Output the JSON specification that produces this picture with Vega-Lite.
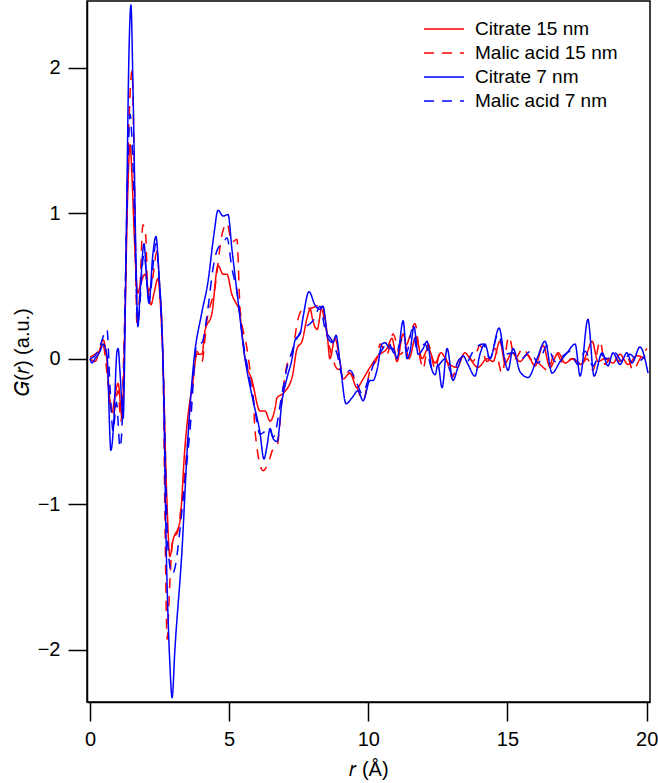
{
  "$schema": "https://vega.github.io/schema/vega-lite/v6.json",
  "width": 563,
  "height": 701,
  "autosize": "none",
  "padding": {"left": 87, "top": 1, "right": 8, "bottom": 81},
  "config": {
    "view": {"stroke": "#000", "strokeWidth": 1.5},
    "font": "Liberation Sans",
    "axis": {"labelFont": "Liberation Sans", "titleFont": "Liberation Sans", "labelColor": "#000", "titleColor": "#000", "domainColor": "#000", "tickColor": "#000", "grid": false, "titleFontWeight": "normal", "domainWidth": 1.5, "tickWidth": 1.5}
  },
  "datasets": {
    "pdf": [
      {"r":0,"G":0,"s":"Citrate 15 nm"},{"r":0.18,"G":-0.02,"s":"Citrate 15 nm"},{"r":0.36,"G":0.07,"s":"Citrate 15 nm"},{"r":0.47,"G":0.13,"s":"Citrate 15 nm"},{"r":0.6,"G":0.0,"s":"Citrate 15 nm"},{"r":0.72,"G":-0.3,"s":"Citrate 15 nm"},{"r":0.79,"G":-0.37,"s":"Citrate 15 nm"},{"r":0.9,"G":-0.25,"s":"Citrate 15 nm"},{"r":1.01,"G":-0.17,"s":"Citrate 15 nm"},{"r":1.15,"G":-0.4,"s":"Citrate 15 nm"},{"r":1.25,"G":0.2,"s":"Citrate 15 nm"},{"r":1.35,"G":1.1,"s":"Citrate 15 nm"},{"r":1.44,"G":1.47,"s":"Citrate 15 nm"},{"r":1.52,"G":1.2,"s":"Citrate 15 nm"},{"r":1.6,"G":0.8,"s":"Citrate 15 nm"},{"r":1.72,"G":0.45,"s":"Citrate 15 nm"},{"r":1.8,"G":0.5,"s":"Citrate 15 nm"},{"r":1.98,"G":0.58,"s":"Citrate 15 nm"},{"r":2.19,"G":0.37,"s":"Citrate 15 nm"},{"r":2.3,"G":0.45,"s":"Citrate 15 nm"},{"r":2.44,"G":0.55,"s":"Citrate 15 nm"},{"r":2.55,"G":0.3,"s":"Citrate 15 nm"},{"r":2.62,"G":0.0,"s":"Citrate 15 nm"},{"r":2.75,"G":-0.9,"s":"Citrate 15 nm"},{"r":2.87,"G":-1.36,"s":"Citrate 15 nm"},{"r":2.98,"G":-1.25,"s":"Citrate 15 nm"},{"r":3.23,"G":-1.12,"s":"Citrate 15 nm"},{"r":3.41,"G":-0.61,"s":"Citrate 15 nm"},{"r":3.59,"G":-0.29,"s":"Citrate 15 nm"},{"r":3.67,"G":-0.2,"s":"Citrate 15 nm"},{"r":3.84,"G":0.03,"s":"Citrate 15 nm"},{"r":4.02,"G":0.03,"s":"Citrate 15 nm"},{"r":4.13,"G":0.19,"s":"Citrate 15 nm"},{"r":4.38,"G":0.31,"s":"Citrate 15 nm"},{"r":4.6,"G":0.64,"s":"Citrate 15 nm"},{"r":4.78,"G":0.58,"s":"Citrate 15 nm"},{"r":4.92,"G":0.58,"s":"Citrate 15 nm"},{"r":5.1,"G":0.44,"s":"Citrate 15 nm"},{"r":5.25,"G":0.38,"s":"Citrate 15 nm"},{"r":5.35,"G":0.34,"s":"Citrate 15 nm"},{"r":5.57,"G":0.0,"s":"Citrate 15 nm"},{"r":5.82,"G":-0.15,"s":"Citrate 15 nm"},{"r":6.11,"G":-0.36,"s":"Citrate 15 nm"},{"r":6.29,"G":-0.36,"s":"Citrate 15 nm"},{"r":6.47,"G":-0.43,"s":"Citrate 15 nm"},{"r":6.65,"G":-0.34,"s":"Citrate 15 nm"},{"r":6.72,"G":-0.27,"s":"Citrate 15 nm"},{"r":6.93,"G":-0.24,"s":"Citrate 15 nm"},{"r":7.26,"G":-0.13,"s":"Citrate 15 nm"},{"r":7.44,"G":0.07,"s":"Citrate 15 nm"},{"r":7.62,"G":0.12,"s":"Citrate 15 nm"},{"r":7.8,"G":0.28,"s":"Citrate 15 nm"},{"r":7.91,"G":0.34,"s":"Citrate 15 nm"},{"r":8.01,"G":0.26,"s":"Citrate 15 nm"},{"r":8.16,"G":0.2,"s":"Citrate 15 nm"},{"r":8.34,"G":0.36,"s":"Citrate 15 nm"},{"r":8.52,"G":0.17,"s":"Citrate 15 nm"},{"r":8.62,"G":0.0,"s":"Citrate 15 nm"},{"r":8.8,"G":0.14,"s":"Citrate 15 nm"},{"r":8.98,"G":-0.02,"s":"Citrate 15 nm"},{"r":9.09,"G":-0.14,"s":"Citrate 15 nm"},{"r":9.34,"G":-0.1,"s":"Citrate 15 nm"},{"r":9.59,"G":-0.2,"s":"Citrate 15 nm"},{"r":9.81,"G":-0.14,"s":"Citrate 15 nm"},{"r":10.06,"G":-0.06,"s":"Citrate 15 nm"},{"r":10.35,"G":0.02,"s":"Citrate 15 nm"},{"r":10.67,"G":0.07,"s":"Citrate 15 nm"},{"r":10.85,"G":0.14,"s":"Citrate 15 nm"},{"r":11.03,"G":-0.02,"s":"Citrate 15 nm"},{"r":11.25,"G":0.17,"s":"Citrate 15 nm"},{"r":11.46,"G":0.0,"s":"Citrate 15 nm"},{"r":11.71,"G":0.15,"s":"Citrate 15 nm"},{"r":11.93,"G":0.0,"s":"Citrate 15 nm"},{"r":12.15,"G":0.07,"s":"Citrate 15 nm"},{"r":12.4,"G":-0.03,"s":"Citrate 15 nm"},{"r":12.61,"G":0.04,"s":"Citrate 15 nm"},{"r":12.86,"G":-0.03,"s":"Citrate 15 nm"},{"r":13.19,"G":-0.06,"s":"Citrate 15 nm"},{"r":13.47,"G":0.04,"s":"Citrate 15 nm"},{"r":13.65,"G":0.0,"s":"Citrate 15 nm"},{"r":13.94,"G":-0.06,"s":"Citrate 15 nm"},{"r":14.27,"G":0.0,"s":"Citrate 15 nm"},{"r":14.48,"G":-0.02,"s":"Citrate 15 nm"},{"r":14.73,"G":0.12,"s":"Citrate 15 nm"},{"r":14.91,"G":-0.03,"s":"Citrate 15 nm"},{"r":15.16,"G":0.04,"s":"Citrate 15 nm"},{"r":15.45,"G":-0.02,"s":"Citrate 15 nm"},{"r":15.7,"G":0.03,"s":"Citrate 15 nm"},{"r":15.99,"G":-0.05,"s":"Citrate 15 nm"},{"r":16.28,"G":0.09,"s":"Citrate 15 nm"},{"r":16.53,"G":-0.06,"s":"Citrate 15 nm"},{"r":16.82,"G":0.04,"s":"Citrate 15 nm"},{"r":17.07,"G":-0.03,"s":"Citrate 15 nm"},{"r":17.36,"G":0.0,"s":"Citrate 15 nm"},{"r":17.64,"G":-0.04,"s":"Citrate 15 nm"},{"r":17.86,"G":0.04,"s":"Citrate 15 nm"},{"r":18.04,"G":0.12,"s":"Citrate 15 nm"},{"r":18.25,"G":-0.02,"s":"Citrate 15 nm"},{"r":18.5,"G":0.0,"s":"Citrate 15 nm"},{"r":18.79,"G":-0.03,"s":"Citrate 15 nm"},{"r":19.04,"G":0.03,"s":"Citrate 15 nm"},{"r":19.33,"G":-0.04,"s":"Citrate 15 nm"},{"r":19.65,"G":0.02,"s":"Citrate 15 nm"},{"r":19.94,"G":0.0,"s":"Citrate 15 nm"},

      {"r":0,"G":0.01,"s":"Malic acid 15 nm"},{"r":0.25,"G":0.04,"s":"Malic acid 15 nm"},{"r":0.47,"G":0.09,"s":"Malic acid 15 nm"},{"r":0.61,"G":-0.1,"s":"Malic acid 15 nm"},{"r":0.72,"G":-0.3,"s":"Malic acid 15 nm"},{"r":0.83,"G":-0.39,"s":"Malic acid 15 nm"},{"r":1.01,"G":-0.22,"s":"Malic acid 15 nm"},{"r":1.11,"G":-0.43,"s":"Malic acid 15 nm"},{"r":1.25,"G":0.3,"s":"Malic acid 15 nm"},{"r":1.38,"G":1.5,"s":"Malic acid 15 nm"},{"r":1.51,"G":1.98,"s":"Malic acid 15 nm"},{"r":1.6,"G":1.2,"s":"Malic acid 15 nm"},{"r":1.69,"G":0.22,"s":"Malic acid 15 nm"},{"r":1.8,"G":0.5,"s":"Malic acid 15 nm"},{"r":1.9,"G":0.92,"s":"Malic acid 15 nm"},{"r":2.0,"G":0.85,"s":"Malic acid 15 nm"},{"r":2.08,"G":0.46,"s":"Malic acid 15 nm"},{"r":2.23,"G":0.53,"s":"Malic acid 15 nm"},{"r":2.41,"G":0.74,"s":"Malic acid 15 nm"},{"r":2.5,"G":0.5,"s":"Malic acid 15 nm"},{"r":2.62,"G":0.0,"s":"Malic acid 15 nm"},{"r":2.7,"G":-1.2,"s":"Malic acid 15 nm"},{"r":2.77,"G":-1.93,"s":"Malic acid 15 nm"},{"r":2.87,"G":-1.53,"s":"Malic acid 15 nm"},{"r":2.98,"G":-1.23,"s":"Malic acid 15 nm"},{"r":3.13,"G":-1.2,"s":"Malic acid 15 nm"},{"r":3.31,"G":-0.96,"s":"Malic acid 15 nm"},{"r":3.49,"G":-0.61,"s":"Malic acid 15 nm"},{"r":3.67,"G":-0.2,"s":"Malic acid 15 nm"},{"r":3.84,"G":0.05,"s":"Malic acid 15 nm"},{"r":4.02,"G":-0.02,"s":"Malic acid 15 nm"},{"r":4.2,"G":0.26,"s":"Malic acid 15 nm"},{"r":4.49,"G":0.49,"s":"Malic acid 15 nm"},{"r":4.74,"G":0.85,"s":"Malic acid 15 nm"},{"r":4.92,"G":0.93,"s":"Malic acid 15 nm"},{"r":5.1,"G":0.8,"s":"Malic acid 15 nm"},{"r":5.28,"G":0.82,"s":"Malic acid 15 nm"},{"r":5.39,"G":0.35,"s":"Malic acid 15 nm"},{"r":5.64,"G":0.07,"s":"Malic acid 15 nm"},{"r":5.75,"G":-0.08,"s":"Malic acid 15 nm"},{"r":5.86,"G":-0.24,"s":"Malic acid 15 nm"},{"r":5.93,"G":-0.5,"s":"Malic acid 15 nm"},{"r":6.22,"G":-0.77,"s":"Malic acid 15 nm"},{"r":6.4,"G":-0.72,"s":"Malic acid 15 nm"},{"r":6.58,"G":-0.62,"s":"Malic acid 15 nm"},{"r":6.72,"G":-0.6,"s":"Malic acid 15 nm"},{"r":6.93,"G":-0.22,"s":"Malic acid 15 nm"},{"r":7.08,"G":-0.04,"s":"Malic acid 15 nm"},{"r":7.26,"G":0.03,"s":"Malic acid 15 nm"},{"r":7.47,"G":0.27,"s":"Malic acid 15 nm"},{"r":7.65,"G":0.34,"s":"Malic acid 15 nm"},{"r":8.0,"G":0.35,"s":"Malic acid 15 nm"},{"r":8.26,"G":0.37,"s":"Malic acid 15 nm"},{"r":8.62,"G":0.07,"s":"Malic acid 15 nm"},{"r":8.88,"G":-0.07,"s":"Malic acid 15 nm"},{"r":9.09,"G":-0.08,"s":"Malic acid 15 nm"},{"r":9.45,"G":-0.12,"s":"Malic acid 15 nm"},{"r":9.81,"G":-0.29,"s":"Malic acid 15 nm"},{"r":10.06,"G":-0.08,"s":"Malic acid 15 nm"},{"r":10.31,"G":0.0,"s":"Malic acid 15 nm"},{"r":10.42,"G":0.1,"s":"Malic acid 15 nm"},{"r":10.67,"G":0.03,"s":"Malic acid 15 nm"},{"r":10.89,"G":0.17,"s":"Malic acid 15 nm"},{"r":11.14,"G":0.03,"s":"Malic acid 15 nm"},{"r":11.39,"G":0.1,"s":"Malic acid 15 nm"},{"r":11.68,"G":0.24,"s":"Malic acid 15 nm"},{"r":11.86,"G":0.0,"s":"Malic acid 15 nm"},{"r":11.97,"G":-0.07,"s":"Malic acid 15 nm"},{"r":12.15,"G":0.1,"s":"Malic acid 15 nm"},{"r":12.4,"G":-0.07,"s":"Malic acid 15 nm"},{"r":12.58,"G":0.04,"s":"Malic acid 15 nm"},{"r":12.83,"G":-0.02,"s":"Malic acid 15 nm"},{"r":13.01,"G":-0.13,"s":"Malic acid 15 nm"},{"r":13.22,"G":-0.02,"s":"Malic acid 15 nm"},{"r":13.55,"G":0.03,"s":"Malic acid 15 nm"},{"r":13.76,"G":-0.02,"s":"Malic acid 15 nm"},{"r":14.01,"G":0.09,"s":"Malic acid 15 nm"},{"r":14.27,"G":-0.02,"s":"Malic acid 15 nm"},{"r":14.55,"G":0.07,"s":"Malic acid 15 nm"},{"r":14.8,"G":-0.1,"s":"Malic acid 15 nm"},{"r":15.05,"G":0.15,"s":"Malic acid 15 nm"},{"r":15.27,"G":0.0,"s":"Malic acid 15 nm"},{"r":15.56,"G":0.07,"s":"Malic acid 15 nm"},{"r":15.81,"G":0.0,"s":"Malic acid 15 nm"},{"r":16.1,"G":-0.03,"s":"Malic acid 15 nm"},{"r":16.46,"G":-0.08,"s":"Malic acid 15 nm"},{"r":16.71,"G":0.05,"s":"Malic acid 15 nm"},{"r":17.0,"G":-0.03,"s":"Malic acid 15 nm"},{"r":17.32,"G":0.0,"s":"Malic acid 15 nm"},{"r":17.61,"G":-0.05,"s":"Malic acid 15 nm"},{"r":17.86,"G":0.0,"s":"Malic acid 15 nm"},{"r":18.07,"G":-0.08,"s":"Malic acid 15 nm"},{"r":18.33,"G":0.12,"s":"Malic acid 15 nm"},{"r":18.5,"G":-0.04,"s":"Malic acid 15 nm"},{"r":18.75,"G":0.02,"s":"Malic acid 15 nm"},{"r":19.04,"G":-0.02,"s":"Malic acid 15 nm"},{"r":19.29,"G":0.02,"s":"Malic acid 15 nm"},{"r":19.51,"G":-0.08,"s":"Malic acid 15 nm"},{"r":19.76,"G":0.0,"s":"Malic acid 15 nm"},{"r":20.01,"G":0.07,"s":"Malic acid 15 nm"},

      {"r":0,"G":0,"s":"Citrate 7 nm"},{"r":0.07,"G":-0.03,"s":"Citrate 7 nm"},{"r":0.18,"G":0.0,"s":"Citrate 7 nm"},{"r":0.36,"G":0.05,"s":"Citrate 7 nm"},{"r":0.47,"G":0.1,"s":"Citrate 7 nm"},{"r":0.61,"G":0.02,"s":"Citrate 7 nm"},{"r":0.75,"G":-0.63,"s":"Citrate 7 nm"},{"r":0.85,"G":-0.45,"s":"Citrate 7 nm"},{"r":0.97,"G":0.05,"s":"Citrate 7 nm"},{"r":1.01,"G":0.07,"s":"Citrate 7 nm"},{"r":1.08,"G":-0.1,"s":"Citrate 7 nm"},{"r":1.19,"G":-0.41,"s":"Citrate 7 nm"},{"r":1.3,"G":0.8,"s":"Citrate 7 nm"},{"r":1.4,"G":2.1,"s":"Citrate 7 nm"},{"r":1.47,"G":2.43,"s":"Citrate 7 nm"},{"r":1.55,"G":1.8,"s":"Citrate 7 nm"},{"r":1.65,"G":0.7,"s":"Citrate 7 nm"},{"r":1.72,"G":0.22,"s":"Citrate 7 nm"},{"r":1.8,"G":0.45,"s":"Citrate 7 nm"},{"r":1.94,"G":0.79,"s":"Citrate 7 nm"},{"r":2.05,"G":0.5,"s":"Citrate 7 nm"},{"r":2.12,"G":0.38,"s":"Citrate 7 nm"},{"r":2.25,"G":0.7,"s":"Citrate 7 nm"},{"r":2.37,"G":0.84,"s":"Citrate 7 nm"},{"r":2.47,"G":0.6,"s":"Citrate 7 nm"},{"r":2.62,"G":0.0,"s":"Citrate 7 nm"},{"r":2.75,"G":-1.4,"s":"Citrate 7 nm"},{"r":2.87,"G":-2.1,"s":"Citrate 7 nm"},{"r":2.95,"G":-2.33,"s":"Citrate 7 nm"},{"r":3.05,"G":-2.0,"s":"Citrate 7 nm"},{"r":3.31,"G":-1.3,"s":"Citrate 7 nm"},{"r":3.5,"G":-0.6,"s":"Citrate 7 nm"},{"r":3.74,"G":0.0,"s":"Citrate 7 nm"},{"r":4.0,"G":0.3,"s":"Citrate 7 nm"},{"r":4.24,"G":0.53,"s":"Citrate 7 nm"},{"r":4.45,"G":0.85,"s":"Citrate 7 nm"},{"r":4.6,"G":1.02,"s":"Citrate 7 nm"},{"r":4.78,"G":0.98,"s":"Citrate 7 nm"},{"r":4.96,"G":0.99,"s":"Citrate 7 nm"},{"r":5.1,"G":0.75,"s":"Citrate 7 nm"},{"r":5.28,"G":0.46,"s":"Citrate 7 nm"},{"r":5.57,"G":0.0,"s":"Citrate 7 nm"},{"r":5.86,"G":-0.29,"s":"Citrate 7 nm"},{"r":6.1,"G":-0.5,"s":"Citrate 7 nm"},{"r":6.25,"G":-0.69,"s":"Citrate 7 nm"},{"r":6.36,"G":-0.6,"s":"Citrate 7 nm"},{"r":6.47,"G":-0.48,"s":"Citrate 7 nm"},{"r":6.58,"G":-0.55,"s":"Citrate 7 nm"},{"r":6.72,"G":-0.57,"s":"Citrate 7 nm"},{"r":6.9,"G":-0.29,"s":"Citrate 7 nm"},{"r":7.08,"G":-0.13,"s":"Citrate 7 nm"},{"r":7.26,"G":0.0,"s":"Citrate 7 nm"},{"r":7.37,"G":0.13,"s":"Citrate 7 nm"},{"r":7.55,"G":0.17,"s":"Citrate 7 nm"},{"r":7.65,"G":0.28,"s":"Citrate 7 nm"},{"r":7.87,"G":0.46,"s":"Citrate 7 nm"},{"r":8.08,"G":0.37,"s":"Citrate 7 nm"},{"r":8.26,"G":0.34,"s":"Citrate 7 nm"},{"r":8.37,"G":0.36,"s":"Citrate 7 nm"},{"r":8.55,"G":0.14,"s":"Citrate 7 nm"},{"r":8.73,"G":0.11,"s":"Citrate 7 nm"},{"r":8.84,"G":0.16,"s":"Citrate 7 nm"},{"r":8.98,"G":-0.02,"s":"Citrate 7 nm"},{"r":9.2,"G":-0.31,"s":"Citrate 7 nm"},{"r":9.41,"G":-0.27,"s":"Citrate 7 nm"},{"r":9.63,"G":-0.22,"s":"Citrate 7 nm"},{"r":9.81,"G":-0.29,"s":"Citrate 7 nm"},{"r":10.06,"G":-0.15,"s":"Citrate 7 nm"},{"r":10.17,"G":-0.15,"s":"Citrate 7 nm"},{"r":10.31,"G":-0.08,"s":"Citrate 7 nm"},{"r":10.49,"G":0.1,"s":"Citrate 7 nm"},{"r":10.6,"G":0.11,"s":"Citrate 7 nm"},{"r":10.78,"G":0.07,"s":"Citrate 7 nm"},{"r":10.89,"G":0.07,"s":"Citrate 7 nm"},{"r":11.03,"G":0.0,"s":"Citrate 7 nm"},{"r":11.25,"G":0.26,"s":"Citrate 7 nm"},{"r":11.39,"G":0.0,"s":"Citrate 7 nm"},{"r":11.5,"G":0.05,"s":"Citrate 7 nm"},{"r":11.64,"G":0.22,"s":"Citrate 7 nm"},{"r":11.79,"G":0.03,"s":"Citrate 7 nm"},{"r":11.97,"G":0.07,"s":"Citrate 7 nm"},{"r":12.11,"G":0.12,"s":"Citrate 7 nm"},{"r":12.29,"G":-0.08,"s":"Citrate 7 nm"},{"r":12.4,"G":-0.11,"s":"Citrate 7 nm"},{"r":12.5,"G":-0.04,"s":"Citrate 7 nm"},{"r":12.65,"G":-0.2,"s":"Citrate 7 nm"},{"r":12.83,"G":0.07,"s":"Citrate 7 nm"},{"r":13.04,"G":-0.15,"s":"Citrate 7 nm"},{"r":13.22,"G":-0.06,"s":"Citrate 7 nm"},{"r":13.4,"G":0.02,"s":"Citrate 7 nm"},{"r":13.58,"G":-0.04,"s":"Citrate 7 nm"},{"r":13.83,"G":-0.12,"s":"Citrate 7 nm"},{"r":14.01,"G":0.03,"s":"Citrate 7 nm"},{"r":14.19,"G":0.1,"s":"Citrate 7 nm"},{"r":14.37,"G":0.0,"s":"Citrate 7 nm"},{"r":14.7,"G":0.21,"s":"Citrate 7 nm"},{"r":14.91,"G":-0.02,"s":"Citrate 7 nm"},{"r":15.02,"G":-0.08,"s":"Citrate 7 nm"},{"r":15.2,"G":0.07,"s":"Citrate 7 nm"},{"r":15.45,"G":-0.09,"s":"Citrate 7 nm"},{"r":15.74,"G":-0.13,"s":"Citrate 7 nm"},{"r":16.06,"G":0.0,"s":"Citrate 7 nm"},{"r":16.35,"G":0.12,"s":"Citrate 7 nm"},{"r":16.6,"G":-0.1,"s":"Citrate 7 nm"},{"r":16.89,"G":-0.02,"s":"Citrate 7 nm"},{"r":17.14,"G":0.04,"s":"Citrate 7 nm"},{"r":17.43,"G":0.1,"s":"Citrate 7 nm"},{"r":17.61,"G":-0.12,"s":"Citrate 7 nm"},{"r":17.89,"G":0.27,"s":"Citrate 7 nm"},{"r":18.11,"G":-0.12,"s":"Citrate 7 nm"},{"r":18.4,"G":0.04,"s":"Citrate 7 nm"},{"r":18.61,"G":-0.05,"s":"Citrate 7 nm"},{"r":18.79,"G":0.04,"s":"Citrate 7 nm"},{"r":19.04,"G":-0.04,"s":"Citrate 7 nm"},{"r":19.29,"G":0.04,"s":"Citrate 7 nm"},{"r":19.47,"G":-0.03,"s":"Citrate 7 nm"},{"r":19.76,"G":0.08,"s":"Citrate 7 nm"},{"r":20.05,"G":-0.1,"s":"Citrate 7 nm"},

      {"r":0,"G":0,"s":"Malic acid 7 nm"},{"r":0.18,"G":0.02,"s":"Malic acid 7 nm"},{"r":0.36,"G":0.09,"s":"Malic acid 7 nm"},{"r":0.61,"G":0.2,"s":"Malic acid 7 nm"},{"r":0.72,"G":-0.2,"s":"Malic acid 7 nm"},{"r":0.83,"G":-0.5,"s":"Malic acid 7 nm"},{"r":0.95,"G":-0.3,"s":"Malic acid 7 nm"},{"r":1.08,"G":-0.61,"s":"Malic acid 7 nm"},{"r":1.2,"G":-0.2,"s":"Malic acid 7 nm"},{"r":1.3,"G":0.8,"s":"Malic acid 7 nm"},{"r":1.44,"G":1.68,"s":"Malic acid 7 nm"},{"r":1.55,"G":1.3,"s":"Malic acid 7 nm"},{"r":1.72,"G":0.25,"s":"Malic acid 7 nm"},{"r":1.94,"G":0.72,"s":"Malic acid 7 nm"},{"r":2.12,"G":0.4,"s":"Malic acid 7 nm"},{"r":2.37,"G":0.79,"s":"Malic acid 7 nm"},{"r":2.5,"G":0.5,"s":"Malic acid 7 nm"},{"r":2.62,"G":0.0,"s":"Malic acid 7 nm"},{"r":2.8,"G":-1.3,"s":"Malic acid 7 nm"},{"r":2.95,"G":-1.48,"s":"Malic acid 7 nm"},{"r":3.05,"G":-1.44,"s":"Malic acid 7 nm"},{"r":3.23,"G":-1.18,"s":"Malic acid 7 nm"},{"r":3.41,"G":-0.84,"s":"Malic acid 7 nm"},{"r":3.59,"G":-0.5,"s":"Malic acid 7 nm"},{"r":3.84,"G":0.1,"s":"Malic acid 7 nm"},{"r":4.02,"G":0.11,"s":"Malic acid 7 nm"},{"r":4.24,"G":0.35,"s":"Malic acid 7 nm"},{"r":4.42,"G":0.62,"s":"Malic acid 7 nm"},{"r":4.6,"G":0.76,"s":"Malic acid 7 nm"},{"r":4.78,"G":0.79,"s":"Malic acid 7 nm"},{"r":4.92,"G":0.83,"s":"Malic acid 7 nm"},{"r":5.1,"G":0.62,"s":"Malic acid 7 nm"},{"r":5.28,"G":0.46,"s":"Malic acid 7 nm"},{"r":5.5,"G":0.12,"s":"Malic acid 7 nm"},{"r":5.68,"G":-0.08,"s":"Malic acid 7 nm"},{"r":5.86,"G":-0.27,"s":"Malic acid 7 nm"},{"r":6.11,"G":-0.52,"s":"Malic acid 7 nm"},{"r":6.29,"G":-0.5,"s":"Malic acid 7 nm"},{"r":6.45,"G":-0.48,"s":"Malic acid 7 nm"},{"r":6.58,"G":-0.54,"s":"Malic acid 7 nm"},{"r":6.9,"G":-0.24,"s":"Malic acid 7 nm"},{"r":7.08,"G":-0.06,"s":"Malic acid 7 nm"},{"r":7.26,"G":0.05,"s":"Malic acid 7 nm"},{"r":7.44,"G":0.14,"s":"Malic acid 7 nm"},{"r":7.65,"G":0.21,"s":"Malic acid 7 nm"},{"r":7.91,"G":0.24,"s":"Malic acid 7 nm"},{"r":8.08,"G":0.28,"s":"Malic acid 7 nm"},{"r":8.26,"G":0.36,"s":"Malic acid 7 nm"},{"r":8.44,"G":0.21,"s":"Malic acid 7 nm"},{"r":8.7,"G":0.12,"s":"Malic acid 7 nm"},{"r":8.88,"G":0.03,"s":"Malic acid 7 nm"},{"r":9.09,"G":-0.13,"s":"Malic acid 7 nm"},{"r":9.34,"G":-0.08,"s":"Malic acid 7 nm"},{"r":9.59,"G":-0.17,"s":"Malic acid 7 nm"},{"r":9.77,"G":-0.24,"s":"Malic acid 7 nm"},{"r":10.06,"G":-0.11,"s":"Malic acid 7 nm"},{"r":10.31,"G":0.02,"s":"Malic acid 7 nm"},{"r":10.42,"G":0.04,"s":"Malic acid 7 nm"},{"r":10.71,"G":0.11,"s":"Malic acid 7 nm"},{"r":10.96,"G":0.03,"s":"Malic acid 7 nm"},{"r":11.21,"G":0.13,"s":"Malic acid 7 nm"},{"r":11.39,"G":0.05,"s":"Malic acid 7 nm"},{"r":11.57,"G":0.2,"s":"Malic acid 7 nm"},{"r":11.75,"G":0.07,"s":"Malic acid 7 nm"},{"r":12.04,"G":0.1,"s":"Malic acid 7 nm"},{"r":12.29,"G":-0.07,"s":"Malic acid 7 nm"},{"r":12.5,"G":-0.05,"s":"Malic acid 7 nm"},{"r":12.76,"G":0.0,"s":"Malic acid 7 nm"},{"r":13.01,"G":-0.11,"s":"Malic acid 7 nm"},{"r":13.29,"G":0.0,"s":"Malic acid 7 nm"},{"r":13.55,"G":-0.02,"s":"Malic acid 7 nm"},{"r":13.76,"G":0.05,"s":"Malic acid 7 nm"},{"r":14.12,"G":0.1,"s":"Malic acid 7 nm"},{"r":14.37,"G":0.0,"s":"Malic acid 7 nm"},{"r":14.66,"G":0.17,"s":"Malic acid 7 nm"},{"r":14.91,"G":0.03,"s":"Malic acid 7 nm"},{"r":15.2,"G":0.04,"s":"Malic acid 7 nm"},{"r":15.52,"G":0.0,"s":"Malic acid 7 nm"},{"r":15.81,"G":0.05,"s":"Malic acid 7 nm"},{"r":16.1,"G":-0.03,"s":"Malic acid 7 nm"},{"r":16.42,"G":0.09,"s":"Malic acid 7 nm"},{"r":16.71,"G":-0.02,"s":"Malic acid 7 nm"},{"r":17.0,"G":0.02,"s":"Malic acid 7 nm"},{"r":17.25,"G":0.05,"s":"Malic acid 7 nm"},{"r":17.53,"G":-0.04,"s":"Malic acid 7 nm"},{"r":17.79,"G":0.05,"s":"Malic acid 7 nm"},{"r":18.07,"G":-0.05,"s":"Malic acid 7 nm"},{"r":18.33,"G":0.03,"s":"Malic acid 7 nm"},{"r":18.58,"G":0.0,"s":"Malic acid 7 nm"},{"r":18.86,"G":0.04,"s":"Malic acid 7 nm"},{"r":19.11,"G":-0.02,"s":"Malic acid 7 nm"},{"r":19.4,"G":0.03,"s":"Malic acid 7 nm"},{"r":19.69,"G":-0.02,"s":"Malic acid 7 nm"},{"r":19.94,"G":0.02,"s":"Malic acid 7 nm"}
    ]
  },
  "layer": [
    {
      "mark": {"type": "rule", "color": "#333", "strokeWidth": 1.5},
      "encoding": {"y": {"datum": 0, "type": "quantitative"}}
    },
    {
      "data": {"name": "pdf"},
      "mark": {"type": "line", "strokeWidth": 1.5, "interpolate": "monotone", "clip": true},
      "encoding": {
        "x": {
          "field": "r", "type": "quantitative",
          "scale": {"domain": [-0.108, 20.12], "nice": false, "zero": false},
          "axis": {"values": [0, 5, 10, 15, 20], "format": "d", "title": "𝑟 (Å)", "labelFontSize": 20, "titleFontSize": 20, "tickSize": 19, "labelPadding": 8, "titlePadding": 10, "labelFlush": false}
        },
        "y": {
          "field": "G", "type": "quantitative",
          "scale": {"domain": [-2.36, 2.458], "nice": false, "zero": false},
          "axis": {"values": [-2, -1, 0, 1, 2], "format": "d", "title": "𝐺(𝑟) (a.u.)", "labelFontSize": 20, "titleFontSize": 20, "tickSize": 19, "labelPadding": 8, "titlePadding": 5, "labelFlush": false}
        },
        "color": {
          "field": "s", "type": "nominal",
          "scale": {"domain": ["Citrate 15 nm", "Malic acid 15 nm", "Citrate 7 nm", "Malic acid 7 nm"], "range": ["#ff0000", "#ff0000", "#0000ff", "#0000ff"]},
          "legend": {"title": null, "orient": "none", "legendX": 336, "legendY": 18, "labelFontSize": 19, "labelFont": "Liberation Sans", "labelColor": "#000", "symbolType": "stroke", "symbolSize": 1600, "symbolStrokeWidth": 1.5, "labelOffset": 10, "rowPadding": 4, "clipHeight": 20, "padding": 0, "labelLimit": 300}
        },
        "strokeDash": {
          "field": "s", "type": "nominal",
          "scale": {"domain": ["Citrate 15 nm", "Malic acid 15 nm", "Citrate 7 nm", "Malic acid 7 nm"], "range": [[1, 0], [10, 8], [1, 0], [10, 8]]},
          "legend": {"title": null, "orient": "none", "legendX": 336, "legendY": 18, "labelFontSize": 19, "labelFont": "Liberation Sans", "labelColor": "#000", "symbolType": "stroke", "symbolSize": 1600, "symbolStrokeWidth": 1.5, "labelOffset": 10, "rowPadding": 4, "clipHeight": 20, "padding": 0, "labelLimit": 300}
        },
        "order": {"field": "r", "type": "quantitative"}
      }
    }
  ]
}
